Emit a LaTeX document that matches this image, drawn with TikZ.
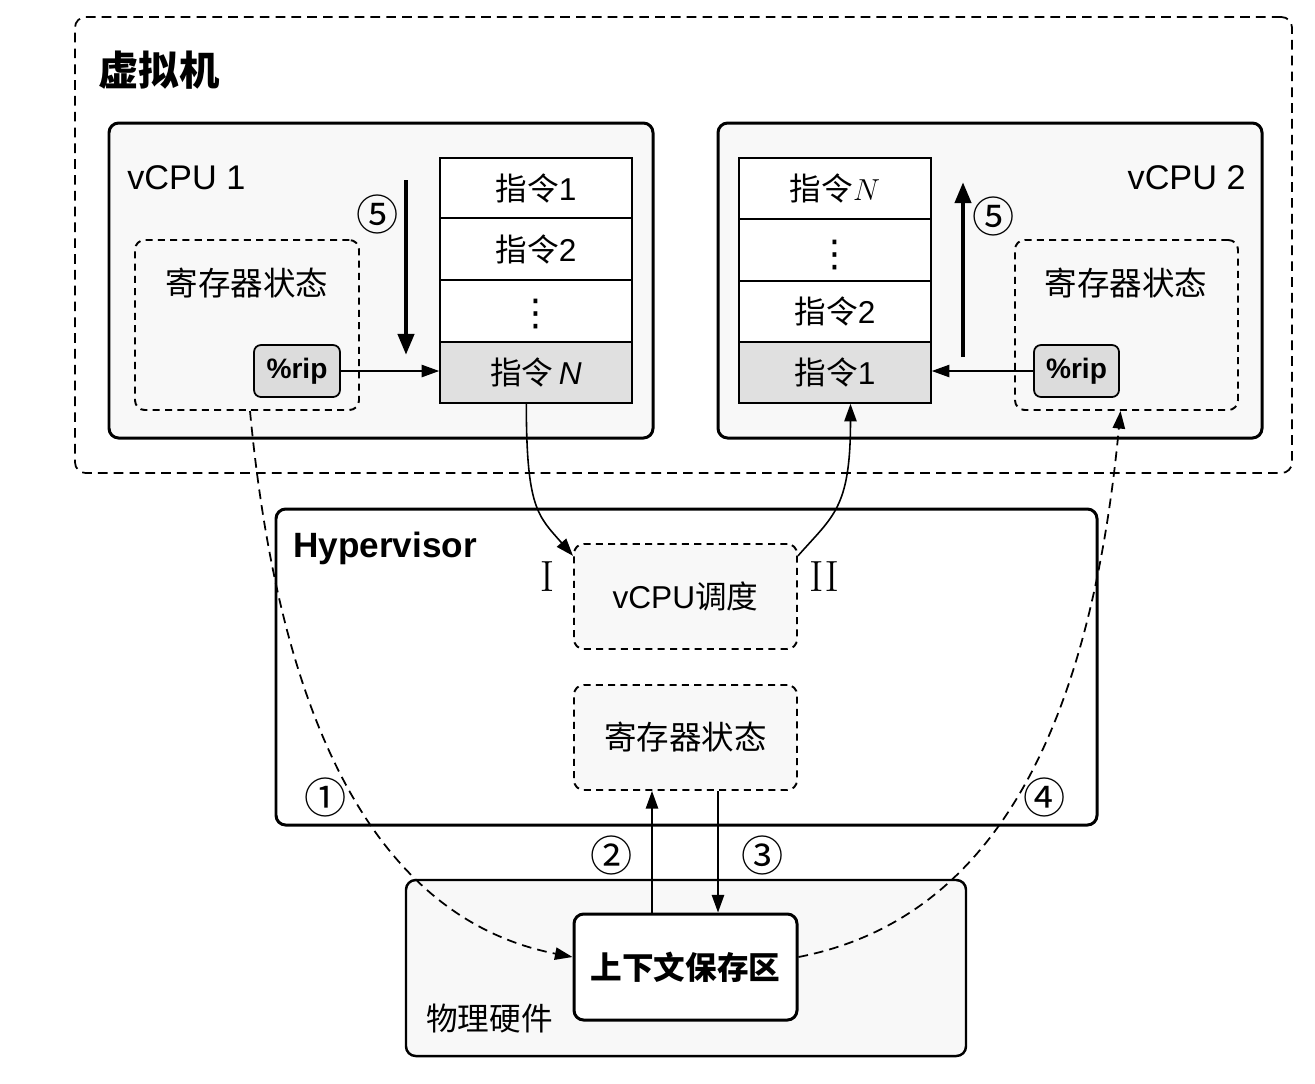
\documentclass[tikz,border=0pt]{standalone}
\usepackage[no-math]{fontspec}
\setmainfont{Liberation Sans}
\newfontfamily\cjk{Noto Sans CJK SC}
\newfontfamily\djv{DejaVu Sans}
\usetikzlibrary{arrows.meta,fit,calc}
\newcommand\zh[1]{{\cjk #1}}
\newcommand\fs[1]{\fontsize{#1}{#1}\selectfont}
\newcommand\myvdots{{\djv\fs{21}⋮}}
\definecolor{boxfill}{HTML}{F8F8F8}
\definecolor{rowgray}{HTML}{E0E0E0}
\definecolor{ripgray}{HTML}{DCDCDC}
\begin{document}
\begin{tikzpicture}[x=0.02cm,y=-0.02cm,
  bigbox/.style={draw, line width=1.7pt, rounded corners=5.5pt, fill=boxfill, inner sep=0pt},
  dbox/.style={draw, line width=1.1pt, dash pattern=on 4pt off 3pt, rounded corners=5.5pt, fill=boxfill, inner sep=0pt, font=\cjk\fs{18}},
  outerbox/.style={draw, line width=1pt, dash pattern=on 5.5pt off 3.5pt, rounded corners=6pt, inner sep=0pt},
  row/.style={draw, line width=0.9pt, fill=white, inner sep=0pt, font=\fs{18}},
  grayrow/.style={row, fill=rowgray},
  ripbox/.style={draw, line width=1pt, rounded corners=4pt, fill=ripgray, inner sep=0pt, font=\bfseries\fs{16}},
  lbl/.style={inner sep=0pt, font=\fs{18}},
  circ/.style={inner sep=0pt, font=\cjk\fs{24}},
  roman/.style={inner sep=0pt, font=\fs{24}},
  conn/.style={line width=0.9pt, -{Triangle[length=10pt,width=7pt]}},
  dconn/.style={conn, line width=1pt, dash pattern=on 5.5pt off 3.5pt},
  thickarr/.style={line width=2.6pt, -{Triangle[length=12pt,width=9pt]}}
]
\useasboundingbox (0,0) rectangle (1315,1083);

% outer VM box
\node[outerbox, fit={(75,17) (1292,473)}] (vm) {};
\node[inner sep=0pt, anchor=west, font=\cjk\bfseries\fs{23}] (vmlbl) at (98,70) {虚拟机};

% vCPU 1
\node[bigbox, fit={(109,123) (653,438)}] (vcpu1) {};
\node[lbl, anchor=west, font=\fs{19.5}] (v1lbl) at (127,178) {vCPU 1};
\node[dbox, fit={(135,240) (359,410)}] (reg1) {};
\node[lbl, font=\cjk\fs{18.5}] (reg1lbl) at (247,283) {寄存器状态};
\node[ripbox, fit={(254,345) (340,397)}] (rip1) {};
\node[inner sep=0pt, font=\bfseries\fs{16}] at (rip1.center) {\%rip};
\node[row, fit={(440,158) (632,218)}] (a1) {};
\node[lbl] at (a1.center) {\zh{指令}1};
\node[row, fit={(440,218) (632,280)}] (a2) {};
\node[lbl] at (a2.center) {\zh{指令}2};
\node[row, fit={(440,280) (632,342)}] (a3) {};
\node[lbl] at ($(a3.center)+(0,3)$) {\myvdots};
\node[grayrow, fit={(440,342) (632,403)}] (a4) {};
\node[lbl] at (a4.center) {\zh{指令}\,\textit{N}};
\coordinate (t1s) at (406,180);
\coordinate (t1e) at (406,355);
\draw[thickarr] (t1s) -- (t1e);
\node[circ] (c5a) at (378,214) {⑤};
\draw[conn] (rip1.east) -- (rip1.east -| a4.west);

% vCPU 2
\node[bigbox, fit={(718,123) (1262,438)}] (vcpu2) {};
\node[lbl, anchor=east, font=\fs{19.5}] (v2lbl) at (1246,178) {vCPU 2};
\node[dbox, fit={(1015,240) (1238,410)}] (reg2) {};
\node[lbl, font=\cjk\fs{18.5}] (reg2lbl) at (1126,283) {寄存器状态};
\node[ripbox, fit={(1034,345) (1119,397)}] (rip2) {};
\node[inner sep=0pt, font=\bfseries\fs{16}] at (rip2.center) {\%rip};
\node[row, fit={(739,158) (931,219)}] (b4) {};
\node[lbl] at (b4.center) {\zh{指令}$N$};
\node[row, fit={(739,219) (931,281)}] (b3) {};
\node[lbl] at ($(b3.center)+(0,5)$) {\myvdots};
\node[row, fit={(739,281) (931,342)}] (b2) {};
\node[lbl] at (b2.center) {\zh{指令}2};
\node[grayrow, fit={(739,342) (931,403)}] (b1) {};
\node[lbl] at (b1.center) {\zh{指令}1};
\coordinate (t2s) at (963,357);
\coordinate (t2e) at (963,182);
\draw[thickarr] (t2s) -- (t2e);
\node[circ] (c5b) at (994,216) {⑤};
\draw[conn] (rip2.west) -- (rip2.west -| b1.east);

% Hypervisor
\node[bigbox, fill=white, fit={(276,509) (1097,825)}] (hyp) {};
\node[inner sep=0pt, anchor=west, font=\bfseries\fs{20}] (hyplbl) at (293,548) {Hypervisor};
\node[dbox, fit={(574,544) (797,649)}] (sched) {};
\node[lbl] at (sched.center) {vCPU\zh{调度}};
\node[dbox, fit={(574,685) (797,790)}] (hreg) {};
\node[lbl, font=\cjk\fs{18.5}] at (hreg.center) {寄存器状态};
\node[roman] (rI) at (547,577) {$\mathrm{I}$};
\node[roman] (rII) at (824,577) {$\mathrm{II}$};
\node[circ] (c1) at (326,797) {①};
\node[circ] (c4) at (1045,797) {④};

% Physical hardware
\node[bigbox, line width=1.4pt, fit={(406,880) (966,1056)}] (phys) {};
\node[lbl, anchor=west, font=\cjk\fs{18}] (physlbl) at (426,1018) {物理硬件};
\node[bigbox, fill=white, fit={(574,914) (797,1020)}] (ctx) {};
\node[inner sep=0pt, font=\cjk\bfseries\fs{18}] at (ctx.center) {上下文保存区};

% arrows 2 and 3
\coordinate (x2) at (652,0);
\coordinate (x3) at (718,0);
\draw[conn] (x2 |- ctx.north) -- (x2 |- hreg.south);
\draw[conn] (x3 |- hreg.south) -- (x3 |- ctx.north);
\node[circ] (c2) at (612,855) {②};
\node[circ] (c3) at (763,855) {③};

% curves I and II
\draw[conn] ($(a4.south west)!0.45!(a4.south east)$) .. controls +(0,105) and +(-35,-40) .. ($(sched.north west)!0.12!(sched.south west)$);
\draw[conn] ($(sched.north east)!0.12!(sched.south east)$) .. controls +(35,-40) and +(0,105) .. ($(b1.south west)!0.58!(b1.south east)$);

% dashed curves 1 and 4
\draw[dconn] ($(reg1.south)+(3,0)$) .. controls +(35,370) and +(-164,-32) .. ($(ctx.west)+(0,-10)$);
\draw[dconn] ($(ctx.east)+(0,-10)$) .. controls +(164,-32) and +(-35,370) .. ($(reg2.south)+(-6,0)$);
\end{tikzpicture}
\end{document}
